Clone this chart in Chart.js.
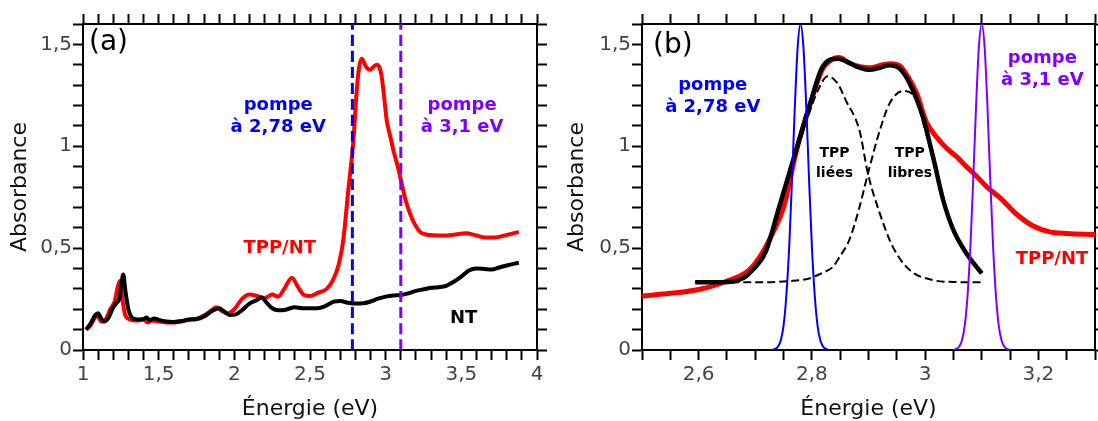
<!DOCTYPE html>
<html>
<head>
<meta charset="utf-8">
<script src="https://cdn.jsdelivr.net/npm/chart.js@4"></script>
<style>
html, body { margin: 0; padding: 0; background: #fff; }
#wrap { position: relative; width: 1098px; height: 421px; }
canvas { position: absolute; top: 0; }
#panneauA { left: 0; }
#panneauB { left: 560px; }
</style>
</head>
<body>
<div id="wrap">
<canvas id="panneauA" width="560" height="421"></canvas>
<canvas id="panneauB" width="538" height="421"></canvas>
</div>
<script>
// (a) spectres complets
var tppNtX = [1.02,1.05,1.08,1.10,1.12,1.15,1.18,1.21,1.23,1.245,1.26,1.28,1.31,1.35,1.40,1.43,1.45,1.50,1.55,1.60,1.65,1.70,1.75,1.80,1.85,1.88,1.92,1.96,2.00,2.05,2.10,2.15,2.20,2.25,2.29,2.33,2.38,2.42,2.46,2.50,2.55,2.61,2.65,2.69,2.72,2.753,2.787,2.809,2.825,2.842,2.87,2.897,2.92,2.941,2.96,2.974,2.99,3.007,3.03,3.051,3.08,3.106,3.13,3.161,3.19,3.227,3.26,3.293,3.38,3.45,3.53,3.60,3.66,3.72,3.80,3.88];
var tppNtY = [0.10,0.12,0.16,0.165,0.14,0.15,0.20,0.24,0.31,0.34,0.25,0.17,0.15,0.145,0.148,0.135,0.145,0.14,0.135,0.135,0.14,0.148,0.152,0.17,0.195,0.21,0.19,0.18,0.20,0.25,0.272,0.265,0.255,0.272,0.262,0.30,0.355,0.31,0.27,0.265,0.28,0.30,0.34,0.42,0.54,0.784,1.03,1.275,1.39,1.43,1.39,1.375,1.39,1.40,1.385,1.34,1.24,1.127,1.05,0.98,0.90,0.817,0.74,0.67,0.62,0.58,0.568,0.564,0.562,0.566,0.573,0.562,0.552,0.552,0.565,0.58];

var ntX = [1.02,1.05,1.08,1.10,1.12,1.14,1.17,1.20,1.22,1.24,1.255,1.266,1.28,1.30,1.33,1.37,1.40,1.42,1.44,1.47,1.50,1.55,1.60,1.65,1.70,1.75,1.80,1.85,1.90,1.93,1.97,2.01,2.05,2.10,2.15,2.18,2.21,2.25,2.29,2.34,2.40,2.45,2.50,2.55,2.60,2.66,2.70,2.75,2.80,2.85,2.90,2.95,3.00,3.05,3.10,3.15,3.20,3.25,3.30,3.35,3.40,3.45,3.50,3.55,3.60,3.65,3.70,3.75,3.80,3.88];
var ntY = [0.10,0.13,0.17,0.18,0.155,0.14,0.16,0.21,0.23,0.25,0.33,0.37,0.29,0.20,0.155,0.15,0.152,0.16,0.145,0.155,0.148,0.14,0.138,0.142,0.15,0.152,0.165,0.19,0.205,0.19,0.172,0.175,0.195,0.228,0.245,0.258,0.235,0.205,0.195,0.198,0.21,0.205,0.205,0.205,0.215,0.238,0.24,0.232,0.228,0.229,0.238,0.252,0.262,0.268,0.27,0.278,0.29,0.298,0.305,0.308,0.315,0.335,0.36,0.39,0.40,0.398,0.395,0.405,0.415,0.428];

var pompeEnergies = [2.78, 3.1];

// (b) zoom sur la bande de Soret
var zoomTppNtX = [2.50,2.55,2.60,2.647,2.689,2.712,2.73,2.75,2.772,2.795,2.819,2.835,2.848,2.865,2.885,2.905,2.925,2.94,2.955,2.97,2.985,3.002,3.02,3.038,3.055,3.073,3.09,3.109,3.133,3.16,3.19,3.22,3.25,3.30];
var zoomTppNtY = [0.265,0.278,0.297,0.335,0.392,0.474,0.57,0.70,0.97,1.19,1.38,1.425,1.435,1.41,1.39,1.385,1.40,1.405,1.395,1.34,1.26,1.12,1.045,0.99,0.95,0.90,0.855,0.80,0.745,0.67,0.61,0.58,0.572,0.567];

var ajustX = [2.594,2.62,2.659,2.68,2.695,2.718,2.742,2.772,2.795,2.819,2.846,2.862,2.878,2.902,2.92,2.937,2.955,2.973,2.996,3.014,3.032,3.05,3.073,3.10];
var ajustY = [0.332,0.332,0.335,0.355,0.392,0.48,0.70,0.98,1.19,1.39,1.43,1.415,1.392,1.375,1.385,1.397,1.381,1.307,1.144,0.948,0.735,0.588,0.474,0.376];

var lieesX = [2.594,2.64,2.68,2.70,2.72,2.745,2.772,2.795,2.81,2.828,2.845,2.86,2.884,2.899,2.92,2.943,2.973,3.014,3.05,3.10];
var lieesY = [0.332,0.332,0.35,0.40,0.48,0.71,0.96,1.16,1.27,1.343,1.31,1.225,1.078,0.866,0.67,0.506,0.392,0.343,0.334,0.332];

var libresX = [2.594,2.65,2.707,2.76,2.795,2.82,2.837,2.852,2.866,2.884,2.899,2.92,2.937,2.961,2.985,3.0,3.014,3.032,3.05,3.073,3.10];
var libresY = [0.332,0.332,0.332,0.338,0.351,0.38,0.408,0.47,0.539,0.70,0.866,1.078,1.209,1.271,1.225,1.08,0.935,0.73,0.584,0.472,0.374];

var pompeBleueX = [2.73,2.735,2.74,2.745,2.75,2.755,2.76,2.765,2.77,2.775,2.78,2.785,2.79,2.795,2.80,2.805,2.81,2.815,2.82,2.825,2.83];
var pompeVioletteX = [3.05,3.055,3.06,3.065,3.07,3.075,3.08,3.085,3.09,3.095,3.10,3.105,3.11,3.115,3.12,3.125,3.13,3.135,3.14,3.145,3.15];
var pompeProfil = [0,0.005,0.016,0.047,0.12,0.27,0.51,0.84,1.20,1.49,1.6,1.49,1.20,0.84,0.51,0.27,0.12,0.047,0.016,0.005,0];

var POLICE = '"DejaVu Sans", "Liberation Sans", sans-serif';
var BLEU = '#0000ff', VIOLET = '#7f00ff', ROUGE = '#ff0000';

function points(xs, ys) {
	var out = [];
	for (var i = 0; i < Math.min(xs.length, ys.length); i++) {
		out.push({x: xs[i], y: ys[i]});
	}
	return out;
}

function virgule(v) {
	return String(v).replace('.', ',');
}

function courbe(xs, ys, couleur, epaisseur, ordre, tirets) {
	return {
		data: points(xs, ys),
		borderColor: couleur,
		borderWidth: epaisseur,
		borderDash: tirets || [],
		pointRadius: 0,
		fill: false,
		cubicInterpolationMode: 'monotone',
		order: ordre
	};
}

function echelles(xmin, xmax, xpas, xDiv, xLabelEvery, boite, titrePadY) {
	var grille = {drawOnChartArea: false, drawTicks: true, tickLength: 10, tickWidth: 2, tickColor: '#000', color: '#000'};
	var bord = {display: true, color: '#000', width: 2};
	var fontTick = {family: POLICE, size: 20};
	return {
		x: {
			type: 'linear', position: 'bottom', min: xmin, max: xmax,
			grid: grille, border: bord,
			ticks: {
				stepSize: xpas, autoSkip: false, maxRotation: 0, color: '#444', font: fontTick, padding: 3,
				callback: function(v) {
					var k = Math.round(v * xDiv);
					return k % xLabelEvery === 0 ? virgule(k / xDiv) : '';
				}
			},
			title: {display: true, text: 'Énergie (eV)', color: '#111', font: {family: POLICE, size: 22, lineHeight: 1.1}, padding: {top: 0, bottom: 0}},
			afterFit: function(s) { s.height = boite.bas; }
		},
		xTop: {
			type: 'linear', position: 'top', min: xmin, max: xmax,
			grid: grille, border: bord,
			ticks: {stepSize: xpas, autoSkip: false, display: false},
			afterFit: function(s) { s.height = boite.haut; }
		},
		y: {
			type: 'linear', position: 'left', min: 0, max: 1.6,
			grid: grille, border: bord,
			ticks: {
				stepSize: 0.1, autoSkip: false, color: '#444', font: fontTick, padding: 1,
				callback: function(v) {
					var k = Math.round(v * 10);
					return k % 5 === 0 ? virgule(k / 10) : '';
				}
			},
			title: {display: true, text: 'Absorbance', color: '#111', font: {family: POLICE, size: 22, lineHeight: 1.2}, padding: {top: titrePadY, bottom: 0}},
			afterFit: function(s) { s.width = boite.gauche; }
		},
		yRight: {
			type: 'linear', position: 'right', min: 0, max: 1.6,
			grid: grille, border: bord,
			ticks: {stepSize: 0.1, autoSkip: false, display: false},
			afterFit: function(s) { s.width = boite.droite; }
		}
	};
}

function textes(items, panneau) {
	return {
		id: 'textes',
		afterDatasetsDraw: function(chart) {
			var ctx = chart.ctx, sx = chart.scales.x, sy = chart.scales.y, ca = chart.chartArea;
			ctx.save();
			ctx.textAlign = 'center';
			ctx.textBaseline = 'middle';
			items.forEach(function(t) {
				ctx.font = 'bold ' + t.taille + 'px ' + POLICE;
				ctx.fillStyle = t.couleur;
				var px = sx.getPixelForValue(t.x), py = sy.getPixelForValue(t.y);
				t.lignes.forEach(function(l, i) {
					ctx.fillText(l, px, py + i * t.interligne);
				});
			});
			ctx.font = '28px ' + POLICE;
			ctx.fillStyle = '#000';
			ctx.textAlign = 'left';
			ctx.fillText(panneau.texte, ca.left + panneau.dx, ca.top + panneau.dy);
			ctx.restore();
		}
	};
}

Chart.defaults.animation = false;

new Chart(document.getElementById('panneauA'), {
	type: 'line',
	data: {
		datasets: [
			courbe([pompeEnergies[0], pompeEnergies[0]], [0, 1.6], BLEU, 3, 0, [11, 5]),
			courbe([pompeEnergies[1], pompeEnergies[1]], [0, 1.6], VIOLET, 3, 0, [11, 5]),
			courbe(ntX, ntY, '#000', 4, 1),
			courbe(tppNtX, tppNtY, ROUGE, 4, 2)
		]
	},
	options: {
		responsive: false,
		layout: {padding: 0},
		plugins: {legend: {display: false}, tooltip: {enabled: false}},
		scales: echelles(1, 4, 0.1, 10, 5, {gauche: 83, droite: 23, haut: 24, bas: 71}, 7)
	},
	plugins: [textes([
		{x: 2.29, y: 1.201, lignes: ['pompe', 'à 2,78 eV'], couleur: BLEU, taille: 18, interligne: 22},
		{x: 3.505, y: 1.201, lignes: ['pompe', 'à 3,1 eV'], couleur: VIOLET, taille: 18, interligne: 22},
		{x: 2.30, y: 0.50, lignes: ['TPP/NT'], couleur: ROUGE, taille: 18, interligne: 22},
		{x: 3.515, y: 0.157, lignes: ['NT'], couleur: '#000', taille: 18, interligne: 22}
	], {texte: '(a)', dx: 6, dy: 19})]
});

new Chart(document.getElementById('panneauB'), {
	type: 'line',
	data: {
		datasets: [
			courbe(pompeBleueX, pompeProfil, BLEU, 2, 0),
			courbe(pompeVioletteX, pompeProfil, VIOLET, 2, 0),
			courbe(ajustX, ajustY, '#000', 4.5, 1),
			courbe(lieesX, lieesY, '#000', 2, 2, [8, 4]),
			courbe(libresX, libresY, '#000', 2, 2, [8, 4]),
			courbe(zoomTppNtX, zoomTppNtY, ROUGE, 5, 3)
		]
	},
	options: {
		responsive: false,
		layout: {padding: 0},
		plugins: {legend: {display: false}, tooltip: {enabled: false}},
		scales: echelles(2.5, 3.3, 0.05, 100, 20, {gauche: 82, droite: 3, haut: 24, bas: 71}, 4)
	},
	plugins: [textes([
		{x: 2.625, y: 1.299, lignes: ['pompe', 'à 2,78 eV'], couleur: BLEU, taille: 18, interligne: 22},
		{x: 3.207, y: 1.431, lignes: ['pompe', 'à 3,1 eV'], couleur: VIOLET, taille: 18, interligne: 22},
		{x: 3.224, y: 0.446, lignes: ['TPP/NT'], couleur: ROUGE, taille: 18, interligne: 22},
		{x: 2.84, y: 0.966, lignes: ['TPP', 'liées'], couleur: '#000', taille: 14, interligne: 20},
		{x: 2.973, y: 0.966, lignes: ['TPP', 'libres'], couleur: '#000', taille: 14, interligne: 20}
	], {texte: '(b)', dx: 11, dy: 22})]
});
</script>
</body>
</html>
